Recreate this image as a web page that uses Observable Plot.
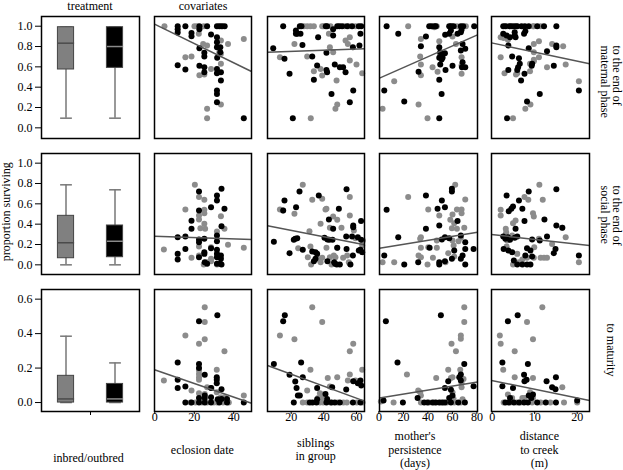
<!DOCTYPE html>
<html><head><meta charset="utf-8">
<script src="https://cdn.jsdelivr.net/npm/d3@7"></script>
<script src="https://cdn.jsdelivr.net/npm/@observablehq/plot@0.6"></script>
<style>
body{margin:0;background:#fff;}
#chart{position:relative;width:623px;height:470px;overflow:hidden;background:#fff;font-family:"Liberation Serif","DejaVu Serif",serif;}
#chart text{font-family:"Liberation Serif","DejaVu Serif",serif;}
</style>
</head><body><div id="chart"></div>
<script>
// ---------- DATA ----------
const colTitles = ["treatment", "covariates"];
const yLabel = "proportion surviving";
const xLabels = [["inbred/outbred"], ["eclosion date"], ["siblings", "in group"], ["mother's", "persistence", "(days)"], ["distance", "to creek", "(m)"]];
const rowLabels = [["to the end of", "maternal phase"], ["to the end of", "social phase"], ["to maturity"]];
const yTicksProp = [0, 0.2, 0.4, 0.6, 0.8, 1.0];
const yTicksMat = [0, 0.2, 0.4, 0.6];
const xTicksCov = [[0, 20, 40], [20, 40, 60], [0, 20, 40, 60, 80], [0, 10, 20]];

// boxes: [low whisker, q1, median, q3, high whisker] for inbred, outbred
const boxMaternal = [[0.095, 0.574, 0.833, 0.99, 0.99], [0.095, 0.59, 0.80, 0.99, 0.99]];
const boxSocial = [[0, 0.065, 0.217, 0.482, 0.787], [0, 0.075, 0.232, 0.387, 0.738]];
const boxMaturity = [[0, 0, 0.021, 0.155, 0.385], [0, 0, 0.021, 0.108, 0.23]];

// fitted lines [x1, y1, x2, y2] per covariate
const fitMaternal = [[-0.15, 1.021, 49, 0.554], [5.5, 0.744, 64.9, 0.777], [0.5, 0.489, 80.5, 0.915], [-0.16, 0.836, 22.9, 0.63]];
const fitSocial = [[-0.15, 0.282, 49, 0.249], [5.5, 0.384, 64.9, 0.197], [0.5, 0.164, 80.5, 0.321], [-0.16, 0.298, 22.9, 0.19]];
const fitMaturity = [[-0.15, 0.19, 49, -0.004], [5.5, 0.215, 64.9, 0.008], [0.5, 0.027, 80.5, 0.119], [-0.16, 0.128, 22.9, 0.012]];

// ---- maternal phase ----
const matEclIn = [[4.9,1.0],[20.1,1.0],[21.4,1.0],[24.8,1.0],[33.5,1.0],[22.3,0.925],[24.5,0.826],[26.5,0.81],[33.5,0.859],[32.7,0.744],[37.1,0.826],[45.1,0.875],[18.6,0.702],[15.5,0.695],[33.5,0.728],[33.5,0.63],[28.5,0.58],[22.6,0.518],[25.1,0.525],[33.5,0.23],[26.5,0.187],[26.5,0.095]];
const matEclOut = [[11.6,1.0],[11.6,0.97],[11.6,0.938],[15.5,1.0],[22.6,1.0],[22.6,0.97],[26.5,1.0],[31.5,1.0],[32.7,1.0],[34.1,1.0],[35.4,1.0],[18.6,0.934],[18.6,0.9],[28.5,0.918],[31.5,0.892],[31.5,0.843],[31.5,0.793],[22.6,0.784],[33.2,0.793],[33.2,0.744],[25.1,0.738],[25.1,0.702],[31.6,0.689],[11.6,0.616],[15.5,0.574],[22.6,0.61],[25.1,0.597],[25.1,0.548],[31.5,0.58],[31.5,0.538],[33.5,0.548],[33.5,0.466],[31.5,0.367],[31.5,0.334],[31.5,0.252],[45.1,0.095]];
const matSibIn = [[13.1,0.695],[32.0,0.095],[27.8,1.0],[29.8,1.0],[31.8,1.0],[33.9,1.0],[39.0,1.0],[40.0,1.0],[44.1,1.0],[52.7,1.0],[55.3,1.0],[59.4,1.0],[22.0,0.826],[43.1,0.925],[55.9,0.892],[53.3,0.859],[54.7,0.826],[43.7,0.793],[45.7,0.744],[29.8,0.702],[38.0,0.58],[33.9,0.557],[39.0,0.515],[47.8,0.466],[55.9,0.662],[60.0,0.623],[63.5,0.538],[48.2,0.23],[47.1,0.187]];
const matSibOut = [[9.0,0.784],[15.1,1.0],[15.9,0.679],[19.0,0.531],[21.0,0.095],[22.9,0.925],[22.9,0.957],[23.7,0.925],[25.7,0.925],[25.3,1.0],[26.3,1.0],[26.9,0.816],[36.5,0.892],[45.7,0.97],[45.7,0.908],[41.2,1.0],[42.0,1.0],[48.2,1.0],[49.6,1.0],[51.2,1.0],[54.3,1.0],[57.3,1.0],[61.4,1.0],[62.9,1.0],[62.4,0.925],[57.8,0.793],[61.8,0.81],[41.6,0.738],[32.9,0.702],[35.9,0.613],[41.6,0.57],[42.0,0.548],[33.9,0.472],[46.7,0.623],[49.8,0.597],[51.8,0.597],[53.3,0.548],[44.7,0.334],[58.0,0.367],[55.9,0.252]];
const matMomIn = [[23.9,1.0],[47.3,1.0],[59.6,1.0],[63.7,1.0],[71.0,1.0],[45.2,0.99],[34.3,0.875],[49.3,0.852],[60.1,0.898],[62.9,0.826],[49.8,0.728],[33.7,0.702],[34.3,0.623],[43.8,0.597],[34.3,0.518],[47.9,0.551],[67.5,0.695],[67.5,0.613],[67.5,0.531],[12.5,0.459],[32.4,0.23],[3.0,0.187],[39.7,0.095]];
const matMomOut = [[6.3,1.0],[15.8,0.925],[41.1,1.0],[43.0,1.0],[45.2,1.0],[46.5,1.0],[57.4,1.0],[58.8,1.0],[61.0,1.0],[66.9,1.0],[68.8,1.0],[77.8,1.0],[58.8,0.957],[57.4,0.925],[66.9,0.941],[64.2,0.925],[54.1,0.915],[67.5,0.964],[38.4,0.898],[34.3,0.803],[49.3,0.793],[68.3,0.826],[66.9,0.761],[70.5,0.777],[50.1,0.744],[49.3,0.689],[52.0,0.728],[53.9,0.734],[52.0,0.689],[51.2,0.672],[50.1,0.623],[32.4,0.551],[54.4,0.57],[60.1,0.61],[67.8,0.597],[70.5,0.597],[68.3,0.646],[49.3,0.472],[4.4,0.367],[51.2,0.334],[20.7,0.259],[49.3,0.095]];
const matDistIn = [[4.3,1.0],[5.7,1.0],[9.6,1.0],[9.8,1.0],[11.4,1.0],[3.5,1.0],[2.0,0.892],[2.7,0.885],[3.7,0.866],[9.8,0.826],[11.0,0.852],[9.8,0.744],[14.1,0.826],[16.7,0.803],[11.0,0.695],[9.8,0.669],[2.0,0.695],[8.9,0.63],[9.8,0.656],[12.9,0.597],[17.3,0.623],[5.6,0.525],[5.9,0.538],[2.9,0.538],[8.9,0.557],[20.4,0.459],[9.0,0.23],[7.8,0.187],[4.9,0.095]];
const matDistOut = [[2.6,1.0],[3.1,1.0],[4.1,1.0],[4.7,1.0],[5.3,1.0],[5.9,1.0],[6.9,1.0],[7.7,1.0],[8.6,1.0],[10.6,1.0],[12.2,1.0],[15.1,1.0],[2.6,0.925],[3.4,0.908],[4.2,0.892],[5.3,0.908],[5.3,0.941],[7.5,0.925],[7.8,0.951],[5.5,0.892],[3.8,0.81],[8.6,0.784],[15.1,0.81],[15.1,0.793],[12.9,0.754],[4.7,0.702],[6.3,0.685],[6.5,0.63],[9.4,0.63],[9.3,0.61],[14.5,0.61],[3.8,0.57],[5.9,0.57],[6.1,0.597],[7.6,0.531],[6.8,0.466],[20.4,0.367],[11.2,0.334],[8.2,0.259],[3.5,0.095]];

// ---- social phase ----
const socEclIn = [[20.3,0.787],[22.4,0.666],[25.1,0.639],[25.1,0.541],[25.1,0.508],[15.5,0.544],[22.4,0.485],[22.4,0.446],[23.1,0.361],[33.5,0.479],[25.1,0.403],[31.5,0.328],[35.3,0.354],[25.5,0.354],[22.4,0.18],[28.5,0.174],[4.6,0.151],[37.1,0.197],[45.1,0.167],[18.6,0.069],[28.5,0.036],[28.5,0.059],[26.5,0.026],[24.8,0.003],[31.5,0.003],[22.4,0.092]];
const socEclOut = [[33.8,0.748],[22.4,0.721],[31.5,0.682],[31.5,0.633],[28.5,0.567],[35.3,0.551],[22.4,0.534],[18.6,0.433],[18.6,0.354],[33.8,0.38],[11.6,0.272],[15.5,0.279],[22.4,0.249],[22.4,0.223],[25.1,0.256],[31.5,0.289],[31.5,0.233],[15.5,0.157],[11.6,0.108],[11.6,0.052],[22.4,0.075],[25.1,0.125],[25.1,0.108],[25.3,0.026],[26.5,0.01],[28.5,0.164],[31.5,0.148],[31.5,0.108],[31.5,0.075],[31.5,0.01],[33.2,0.01],[33.5,0.059],[33.5,0.092],[33.8,0.003]];
const socSibIn = [[27.1,0.787],[39.0,0.649],[32.9,0.639],[55.9,0.666],[13.1,0.544],[14.9,0.534],[22.0,0.502],[41.6,0.551],[41.0,0.544],[45.7,0.475],[48.2,0.443],[38.0,0.403],[43.7,0.364],[50.8,0.364],[55.9,0.485],[58.4,0.338],[31.2,0.331],[59.4,0.262],[63.9,0.239],[63.5,0.19],[24.3,0.164],[31.8,0.18],[30.2,0.075],[32.2,0.003],[36.3,0.056],[39.0,0.069],[38.0,0.026],[41.6,0.167],[48.2,0.167],[43.7,0.075],[46.1,0.092],[47.1,0.075],[44.7,0.003],[54.3,0.092],[55.3,0.026],[55.9,0.01],[51.8,0.069]];
const socSibOut = [[25.1,0.721],[36.9,0.682],[53.9,0.744],[15.9,0.633],[15.1,0.534],[23.0,0.567],[49.2,0.551],[43.1,0.446],[45.7,0.354],[58.0,0.387],[58.0,0.37],[62.8,0.43],[53.7,0.279],[57.3,0.279],[60.8,0.272],[62.8,0.246],[62.4,0.148],[61.4,0.141],[63.5,0.125],[22.5,0.256],[23.7,0.262],[21.6,0.246],[9.4,0.226],[19.0,0.115],[27.1,0.148],[32.9,0.131],[34.9,0.125],[35.9,0.108],[33.9,0.036],[34.9,0.059],[40.4,0.266],[42.2,0.249],[43.3,0.246],[45.3,0.246],[48.2,0.167],[42.2,0.036],[46.3,0.026],[47.9,0.003],[49.8,0.003],[46.9,0.01],[57.8,0.092],[56.3,0.003],[53.9,0.157]];
const socMomIn = [[62.3,0.787],[23.9,0.666],[40.3,0.544],[70.5,0.643],[63.7,0.544],[67.5,0.544],[67.5,0.508],[49.3,0.485],[60.1,0.495],[58.3,0.443],[61.5,0.41],[59.6,0.361],[63.7,0.354],[69.7,0.364],[34.3,0.272],[33.7,0.256],[47.3,0.239],[60.1,0.239],[66.9,0.266],[34.3,0.167],[40.3,0.174],[47.3,0.167],[61.0,0.19],[65.0,0.233],[32.4,0.092],[34.3,0.075],[44.1,0.069],[56.6,0.115],[61.5,0.082],[54.4,0.026],[3.0,0.026],[12.5,0.026],[39.7,0.003]];
const socMomOut = [[59.6,0.748],[59.6,0.721],[38.4,0.682],[6.3,0.541],[51.4,0.633],[53.9,0.567],[47.9,0.551],[64.2,0.43],[38.4,0.354],[49.3,0.387],[15.8,0.272],[51.4,0.249],[57.4,0.262],[53.9,0.272],[66.9,0.289],[70.5,0.223],[41.4,0.167],[61.5,0.141],[70.5,0.157],[77.3,0.157],[32.1,0.026],[49.3,0.026],[49.3,0.003],[53.9,0.036],[59.6,0.059],[66.9,0.059],[68.3,0.092],[70.5,0.003],[4.4,0.092],[20.7,0.003]];
const socDistIn = [[11.1,0.787],[7.6,0.666],[8.5,0.639],[11.9,0.639],[2.0,0.541],[2.0,0.485],[9.6,0.508],[9.8,0.475],[5.5,0.436],[4.9,0.41],[3.2,0.354],[3.3,0.321],[3.2,0.295],[16.5,0.364],[17.3,0.272],[3.5,0.239],[4.7,0.289],[11.0,0.256],[9.9,0.174],[3.4,0.18],[5.9,0.108],[8.2,0.069],[9.8,0.069],[11.4,0.069],[12.2,0.069],[12.9,0.069],[14.1,0.206],[4.9,0.003],[6.3,0.026],[7.1,0.052],[20.4,0.026]];
const socDistOut = [[15.1,0.744],[8.6,0.721],[3.4,0.682],[6.3,0.633],[4.9,0.574],[4.5,0.551],[3.9,0.528],[7.1,0.551],[12.3,0.446],[7.6,0.43],[5.5,0.354],[15.1,0.387],[16.5,0.364],[2.6,0.279],[3.1,0.256],[3.7,0.272],[4.2,0.246],[5.3,0.266],[5.9,0.279],[12.9,0.279],[9.4,0.249],[11.2,0.239],[2.7,0.157],[3.8,0.141],[4.7,0.125],[8.2,0.164],[9.0,0.141],[9.4,0.082],[7.8,0.092],[14.9,0.157],[14.5,0.115],[5.1,0.043],[5.9,0.003],[7.1,0.003],[8.2,0.003],[9.0,0.003],[20.4,0.092]];

// ---- maturity ----
const adEclIn = [[25.3,0.553],[25.3,0.468],[15.5,0.389],[22.4,0.341],[25.3,0.368],[35.3,0.298],[22.4,0.186],[22.4,0.166],[22.4,0.147],[22.4,0.132],[31.4,0.19],[4.6,0.128],[18.6,0.07],[22.4,0.054],[25.3,0.05],[26.5,0.089],[28.7,0.085],[31.4,0.06],[33.5,0.031],[35.3,0.031],[45.1,0.041],[18.1,0],[20.6,0],[23.9,0],[26.5,0],[29.9,0],[31.6,0],[34.6,0],[37.5,0]];
const adEclOut = [[22.4,0.472],[31.7,0.507],[11.6,0.232],[22.4,0.223],[22.4,0.201],[25.3,0.161],[31.4,0.147],[31.4,0.132],[31.4,0.112],[11.6,0.132],[11.6,0.085],[15.5,0.093],[28.5,0.085],[25.3,0.041],[25.3,0.027],[22.4,0.027],[28.5,0.031],[33.8,0.077],[33.8,0.021],[31.9,0.019],[36.6,0.021],[45.1,0],[15.5,0],[18.6,0],[22.4,0],[25.3,0],[28.5,0],[32.7,0],[36.6,0]];
const adSibIn = [[32.9,0.553],[39.0,0.468],[13.1,0.389],[22.0,0.368],[31.8,0.19],[42.4,0.143],[48.2,0.147],[55.9,0.298],[58.0,0.341],[55.9,0.163],[63.5,0.19],[59.4,0.128],[54.7,0.128],[29.8,0.07],[37.6,0.054],[39.2,0.046],[36.5,0.027],[38.6,0.027],[43.7,0.093],[27.1,0],[29.8,0],[37.6,0],[39.6,0],[43.9,0],[48.4,0],[52.0,0],[54.1,0],[60.2,0],[63.7,0]];
const adSibOut = [[16.1,0.507],[15.1,0.472],[9.4,0.224],[26.1,0.232],[19.0,0.161],[27.1,0.147],[22.5,0.122],[58.0,0.124],[60.8,0.112],[62.4,0.128],[62.9,0.099],[53.7,0.075],[35.9,0.085],[23.3,0.085],[24.1,0.041],[25.3,0.041],[41.0,0.05],[42.0,0.021],[35.9,0.019],[45.1,0.089],[21.6,0],[31.4,0],[33.1,0],[35.5,0],[41.6,0],[44.7,0],[46.7,0],[49.8,0],[57.8,0],[62.4,0]];
const adMomIn = [[69.7,0.553],[69.7,0.468],[66.9,0.389],[66.9,0.37],[59.3,0.341],[62.9,0.298],[22.9,0.163],[56.6,0.19],[66.4,0.19],[60.1,0.147],[58.8,0.143],[46.8,0.143],[67.5,0.112],[67.5,0.089],[69.1,0.137],[32.1,0.07],[33.7,0.06],[34.3,0.041],[60.1,0.06],[61.0,0.021],[68.3,0.019],[12.0,0],[1.6,0.006],[34.3,0],[41.1,0],[45.2,0],[50.6,0],[55.5,0],[61.5,0],[66.9,0]];
const adMomOut = [[5.7,0.472],[50.6,0.507],[15.2,0.232],[69.7,0.224],[66.9,0.163],[65.6,0.147],[66.9,0.128],[56.6,0.124],[77.3,0.095],[53.9,0.085],[58.8,0.074],[60.1,0.041],[57.4,0.027],[31.6,0.027],[19.6,0],[3.8,0.012],[37.0,0],[39.7,0],[43.8,0],[46.5,0],[49.3,0],[52.0,0],[53.9,0],[58.8,0],[64.8,0],[70.2,0]];
const adDistIn = [[11.8,0.553],[8.2,0.468],[1.8,0.389],[2.0,0.341],[9.6,0.368],[5.3,0.298],[2.6,0.19],[5.3,0.147],[9.6,0.143],[16.5,0.089],[3.7,0.046],[4.7,0.027],[8.9,0.06],[7.6,0.027],[7.1,0.027],[9.6,0.027],[20.0,0],[2.7,0],[4.3,0],[5.7,0],[6.7,0],[9.4,0],[11.4,0],[13.7,0],[16.9,0]];
const adDistOut = [[3.7,0.472],[6.0,0.507],[8.4,0.224],[2.4,0.232],[7.5,0.161],[8.1,0.132],[7.6,0.124],[12.8,0.124],[15.0,0.147],[14.1,0.089],[14.9,0.077],[2.4,0.095],[4.9,0.085],[4.2,0.027],[8.6,0.041],[9.6,0.046],[9.2,0.027],[20.0,0.012],[3.1,0],[3.9,0],[5.1,0],[6.3,0],[7.5,0],[8.4,0],[10.6,0],[12.6,0],[15.0,0]];

// ---------- LAYOUT ----------
const GREY = "#8c8c8c";
const FONT = '"Liberation Serif", "DejaVu Serif", serif';
const COLS = [[41, 139], [154, 251], [267, 364], [379, 477], [491, 589]];
const ROWS = [[16, 138], [153, 274], [289, 411]];
const XDOM = [[0.5, 2.5], [-0.15, 49], [5.5, 64.9], [0.5, 80.5], [-0.16, 22.9]];
const YDOM = [[-0.105, 1.0955], [-0.095, 1.095], [-0.052, 0.656]];
const chart = document.getElementById("chart");

function common(c, r, m) {
  return {
    width: COLS[c][1] - COLS[c][0] + m.l + m.r,
    height: ROWS[r][1] - ROWS[r][0] + m.t + m.b,
    marginLeft: m.l, marginRight: m.r, marginTop: m.t, marginBottom: m.b,
    style: {fontFamily: FONT, fontSize: "12px", background: "transparent", overflow: "visible", color: "#000"}
  };
}
function put(svg, c, r, m) {
  svg.style.position = "absolute";
  svg.style.left = (COLS[c][0] - m.l) + "px";
  svg.style.top = (ROWS[r][0] - m.t) + "px";
  svg.style.fontFamily = FONT;
  chart.appendChild(svg);
}

function boxPanel(r, boxes, yticks) {
  const m = {l: 41, r: 2, t: 2, b: r === 2 ? 22 : 2};
  const data = boxes.map((b, i) => ({g: i + 1, lo: b[0], q1: b[1], med: b[2], q3: b[3], hi: b[4],
    fill: i ? "#000000" : "#808080", medc: i ? "#8a8a8a" : "#4a4a4a"}));
  const svg = Plot.plot({
    ...common(0, r, m),
    x: {domain: XDOM[0], axis: r === 2 ? "bottom" : null, ticks: [1.5], tickFormat: () => "", tickSize: 4, label: null},
    y: {domain: YDOM[r], axis: "left", ticks: yticks, tickFormat: ".1f", tickSize: 6, tickPadding: 3, label: null},
    marks: [
      Plot.ruleX(data, {x: "g", y1: "lo", y2: "hi", stroke: "#777", strokeWidth: 1.5}),
      Plot.link(data, {x1: d => d.g - 0.12, x2: d => d.g + 0.12, y1: "lo", y2: "lo", stroke: "#777", strokeWidth: 1.5}),
      Plot.link(data, {x1: d => d.g - 0.12, x2: d => d.g + 0.12, y1: "hi", y2: "hi", stroke: "#777", strokeWidth: 1.5}),
      Plot.rect(data, {x1: d => d.g - 0.165, x2: d => d.g + 0.165, y1: "q1", y2: "q3", fill: d => d.fill, stroke: "#444", strokeWidth: 1}),
      Plot.link(data, {x1: d => d.g - 0.165, x2: d => d.g + 0.165, y1: "med", y2: "med", stroke: d => d.medc, strokeWidth: 1.5}),
      Plot.frame({stroke: "#000", strokeWidth: 1.5})
    ]
  });
  put(svg, 0, r, m);
}

function scatter(r, c, inb, outb, fit) {
  const m = {l: 2, r: 2, t: 2, b: r === 2 ? 22 : 2};
  const svg = Plot.plot({
    ...common(c, r, m),
    x: {domain: XDOM[c], axis: r === 2 ? "bottom" : null, ticks: xTicksCov[c - 1], tickFormat: d => String(d), tickSize: 3, tickPadding: -2, label: null},
    y: {domain: YDOM[r], axis: null},
    marks: [
      Plot.dot(inb, {x: d => d[0], y: d => d[1], r: 3, fill: GREY}),
      Plot.dot(outb, {x: d => d[0], y: d => d[1], r: 3, fill: "#000"}),
      Plot.link([fit], {x1: d => d[0], y1: d => d[1], x2: d => d[2], y2: d => d[3], stroke: "#555", strokeWidth: 1.5}),
      Plot.frame({stroke: "#000", strokeWidth: 1.5})
    ]
  });
  put(svg, c, r, m);
}

boxPanel(0, boxMaternal, yTicksProp);
boxPanel(1, boxSocial, yTicksProp);
boxPanel(2, boxMaturity, yTicksMat);

const rowsData = [
  [[matEclIn, matEclOut], [matSibIn, matSibOut], [matMomIn, matMomOut], [matDistIn, matDistOut]],
  [[socEclIn, socEclOut], [socSibIn, socSibOut], [socMomIn, socMomOut], [socDistIn, socDistOut]],
  [[adEclIn, adEclOut], [adSibIn, adSibOut], [adMomIn, adMomOut], [adDistIn, adDistOut]]
];
const fits = [fitMaternal, fitSocial, fitMaturity];
rowsData.forEach((row, r) => row.forEach((p, i) => scatter(r, i + 1, p[0], p[1], fits[r][i])));

// ---------- TEXT ----------
const ov = d3.create("svg").attr("width", 623).attr("height", 470)
  .style("position", "absolute").style("left", "0px").style("top", "0px")
  .attr("font-family", FONT).style("font-family", FONT).style("font-size", "12px").style("pointer-events", "none");
function txt(x, y, s, anchor, rot) {
  ov.append("text").attr("transform", `translate(${x},${y}) rotate(${rot || 0})`)
    .attr("text-anchor", anchor || "middle").attr("fill", "#000").attr("font-family", FONT).text(s);
}
txt((COLS[0][0] + COLS[0][1]) / 2, 9.5, colTitles[0]);
txt((COLS[1][0] + COLS[1][1]) / 2 + 0.5, 9.5, colTitles[1]);
txt(10, 211.7, yLabel, "middle", -90);

const xLabCenters = [88.5, 202.3, 315.7, 415, 539.3];
xLabels.forEach((lines, i) => {
  const first = i === 0 ? 461.5 : 453.6 - (lines.length - 1) * 13.4 / 2;
  lines.forEach((s, k) => txt(xLabCenters[i], first + k * 13.4, s));
});
const rowLabStart = [45.5, 185.5, 323.5];
rowLabels.forEach((lines, r) => {
  const n = lines.length;
  lines.forEach((s, k) => txt(607.3 + (n - 1) * 6 - k * 12 - (n === 1 ? 0.5 : 0), rowLabStart[r], s, "start", 90));
});
chart.appendChild(ov.node());
</script>
</body></html>
